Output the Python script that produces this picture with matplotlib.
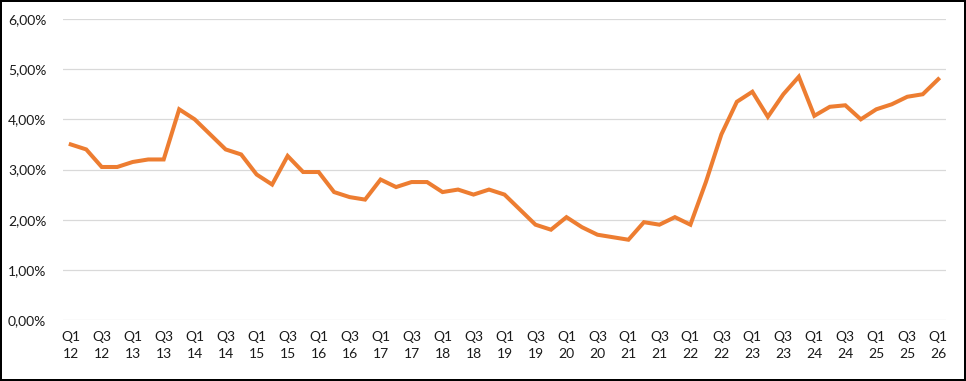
import matplotlib
matplotlib.use("Agg")
import matplotlib.pyplot as plt
from matplotlib.ticker import FuncFormatter

# Quarterly values, Q1 2012 .. Q1 2026 (percent)
years = list(range(12, 27))
quarters = [f"Q{q}\n{y}" for y in years for q in (1, 2, 3, 4)][:57]
values = [
    3.50, 3.40, 3.05, 3.05,   # 2012
    3.15, 3.20, 3.20, 4.20,   # 2013
    4.00, 3.70, 3.40, 3.30,   # 2014
    2.90, 2.70, 3.27, 2.95,   # 2015
    2.95, 2.55, 2.45, 2.40,   # 2016
    2.80, 2.65, 2.75, 2.75,   # 2017
    2.55, 2.60, 2.50, 2.60,   # 2018
    2.50, 2.20, 1.90, 1.80,   # 2019
    2.05, 1.85, 1.70, 1.65,   # 2020
    1.60, 1.95, 1.90, 2.05,   # 2021
    1.90, 2.75, 3.70, 4.35,   # 2022
    4.55, 4.05, 4.50, 4.85,   # 2023
    4.07, 4.25, 4.28, 4.00,   # 2024
    4.20, 4.30, 4.45, 4.50,   # 2025
    4.80,                     # 2026
]
y_ticks = [0, 1, 2, 3, 4, 5, 6]

plt.rcParams['font.family'] = ['Lato', 'DejaVu Sans']

fig = plt.figure(figsize=(9.66, 3.81), dpi=100)
fig.patch.set_facecolor('white')
fig.patch.set_edgecolor('black')
fig.patch.set_linewidth(1.5)

ax = fig.add_axes([63 / 966, 1 - 320 / 381, (946 - 63) / 966, (320 - 19) / 381])

x = list(range(len(values)))
ax.plot(x, values, color='#ED7D31', linewidth=2.9, solid_joinstyle='miter', zorder=3)

ax.set_ylim(0, 6)
ax.set_xlim(-0.5, len(values) - 0.5)
ax.set_yticks(y_ticks)
ax.yaxis.set_major_formatter(FuncFormatter(lambda v, p: f"{v:.2f}%".replace('.', ',')))
ax.grid(axis='y', color='#D9D9D9', linewidth=0.9, zorder=0)
ax.set_axisbelow(True)

ax.set_xticks(x[::2])
ax.set_xticklabels(quarters[::2], linespacing=1.5)

ax.tick_params(axis='both', length=0, labelsize=10, colors='#1a1a1a')
ax.tick_params(axis='x', pad=8)
ax.tick_params(axis='y', pad=12)

for s in ax.spines.values():
    s.set_visible(False)

fig.savefig('out.png', dpi=100, facecolor='white', edgecolor=fig.get_edgecolor())
